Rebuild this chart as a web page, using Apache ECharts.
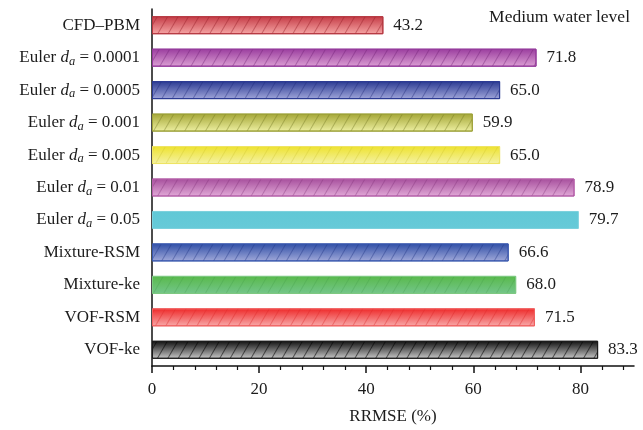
<!DOCTYPE html>
<html>
<head>
<meta charset="utf-8">
<script src="https://cdn.jsdelivr.net/npm/echarts@6/dist/echarts.min.js"></script>
<style>
  html, body { margin: 0; padding: 0; background: #fff; }
  #chart { width: 643px; height: 430px; }
</style>
</head>
<body>
<div id="chart"></div>
<script>
// Model names, top to bottom
const categories = [
  'CFD–PBM',
  'Euler d_a = 0.0001',
  'Euler d_a = 0.0005',
  'Euler d_a = 0.001',
  'Euler d_a = 0.005',
  'Euler d_a = 0.01',
  'Euler d_a = 0.05',
  'Mixture-RSM',
  'Mixture-ke',
  'VOF-RSM',
  'VOF-ke'
];

// RRMSE (%) for each model
const rrmse = [43.2, 71.8, 65.0, 59.9, 65.0, 78.9, 79.7, 66.6, 68.0, 71.5, 83.3];

const majorTicks = [0, 20, 40, 60, 80];
const minorTicks = [4, 8, 12, 16, 24, 28, 32, 36, 44, 48, 52, 56, 64, 68, 72, 76, 84, 88];

// Fill: [top colour, bottom colour, border, hatch line colour]
const barStyles = [
  ['#c43a44', '#f6a6a6', '#b5363f', 'rgba(150,30,40,0.45)'],
  ['#9a3c9e', '#dca0d4', '#93389a', 'rgba(110,30,115,0.4)'],
  ['#2b3a92', '#a0a6da', '#2b3a92', 'rgba(30,40,120,0.4)'],
  ['#a4a636', '#eef0a2', '#9ea23a', 'rgba(110,115,30,0.4)'],
  ['#eee22c', '#f4f2a6', '#eee464', 'rgba(200,190,40,0.3)'],
  ['#a64e9c', '#e2aad8', '#b45ea8', 'rgba(130,50,120,0.38)'],
  ['#60c8d6', '#66cad8', '#7ad0dc', null],
  ['#2f4ea6', '#a2aada', '#3a58ae', 'rgba(30,50,130,0.4)'],
  ['#58b94a', '#74c68c', '#7cc880', 'rgba(60,150,70,0.28)'],
  ['#ee2828', '#f8aaaa', '#f06060', 'rgba(220,40,40,0.4)'],
  ['#0e0e0e', '#cacaca', '#1a1a1a', 'rgba(0,0,0,0.55)']
];

const FONT = '"Liberation Serif", "Times New Roman", serif';
const INK = '#1c1c1c';
const FS = 17;

function hatch(color) {
  if (!color) return null;
  return {
    symbol: 'rect',
    symbolSize: 1,
    color: color,
    backgroundColor: 'transparent',
    dashArrayX: [1, 0],
    dashArrayY: [1, 8],
    rotation: -Math.PI / 3
  };
}

const barData = rrmse.map((v, i) => {
  const s = barStyles[i];
  const item = {
    value: v,
    itemStyle: {
      color: new echarts.graphic.LinearGradient(0, 0, 0, 1, [
        { offset: 0, color: s[0] },
        { offset: 1, color: s[1] }
      ]),
      borderColor: s[2],
      borderWidth: 1
    }
  };
  const d = hatch(s[3]);
  if (d) item.itemStyle.decal = d;
  return item;
});

function categoryLabel(name) {
  const parts = name.split('d_a');
  if (parts.length === 1) return '{n|' + name + '}';
  return '{n|' + parts[0] + '}{i|d}{s|a}{n|' + parts[1] + '}';
}

const chart = echarts.init(document.getElementById('chart'), null, { renderer: 'canvas' });

chart.setOption({
  animation: false,
  backgroundColor: '#fff',
  title: {
    text: 'Medium water level',
    right: 8,
    top: 3,
    textStyle: { fontFamily: FONT, fontSize: 17.5, fontWeight: 'normal', color: INK }
  },
  grid: { left: 152, right: 9, top: 9, bottom: 62, containLabel: false },
  xAxis: [
    {
      type: 'value',
      min: 0,
      max: 90,
      interval: 20,
      name: 'RRMSE (%)',
      nameLocation: 'middle',
      nameGap: 42,
      nameTextStyle: { fontFamily: FONT, fontSize: FS, color: INK },
      axisLine: { show: true, lineStyle: { color: '#111', width: 1.5 } },
      axisTick: { show: true, inside: false, length: 7, customValues: majorTicks, lineStyle: { color: '#111', width: 1.5 } },
      axisLabel: { customValues: majorTicks, margin: 15, fontFamily: FONT, fontSize: FS, color: INK },
      splitLine: { show: false }
    },
    {
      type: 'value',
      min: 0,
      max: 90,
      position: 'bottom',
      axisLine: { show: false },
      axisTick: { show: true, inside: false, length: 4, customValues: minorTicks, lineStyle: { color: '#111', width: 1.2 } },
      axisLabel: { show: false },
      splitLine: { show: false }
    }
  ],
  yAxis: {
    type: 'category',
    inverse: true,
    data: categories,
    axisLine: { show: true, lineStyle: { color: '#111', width: 1.5 } },
    axisTick: { show: false },
    axisLabel: {
      margin: 12,
      formatter: categoryLabel,
      rich: {
        n: { fontFamily: FONT, fontSize: FS, color: INK, lineHeight: 21 },
        i: { fontFamily: FONT, fontSize: FS, fontStyle: 'italic', color: INK, lineHeight: 21 },
        s: { fontFamily: FONT, fontSize: 12.5, fontStyle: 'italic', color: INK, lineHeight: 12, verticalAlign: 'bottom' }
      }
    }
  },
  series: [{
    type: 'bar',
    xAxisIndex: 0,
    barWidth: 18,
    data: barData,
    label: {
      show: true,
      position: 'right',
      distance: 10,
      formatter: p => p.value.toFixed(1),
      fontFamily: FONT,
      fontSize: FS,
      color: INK
    }
  }]
});
</script>
</body>
</html>
